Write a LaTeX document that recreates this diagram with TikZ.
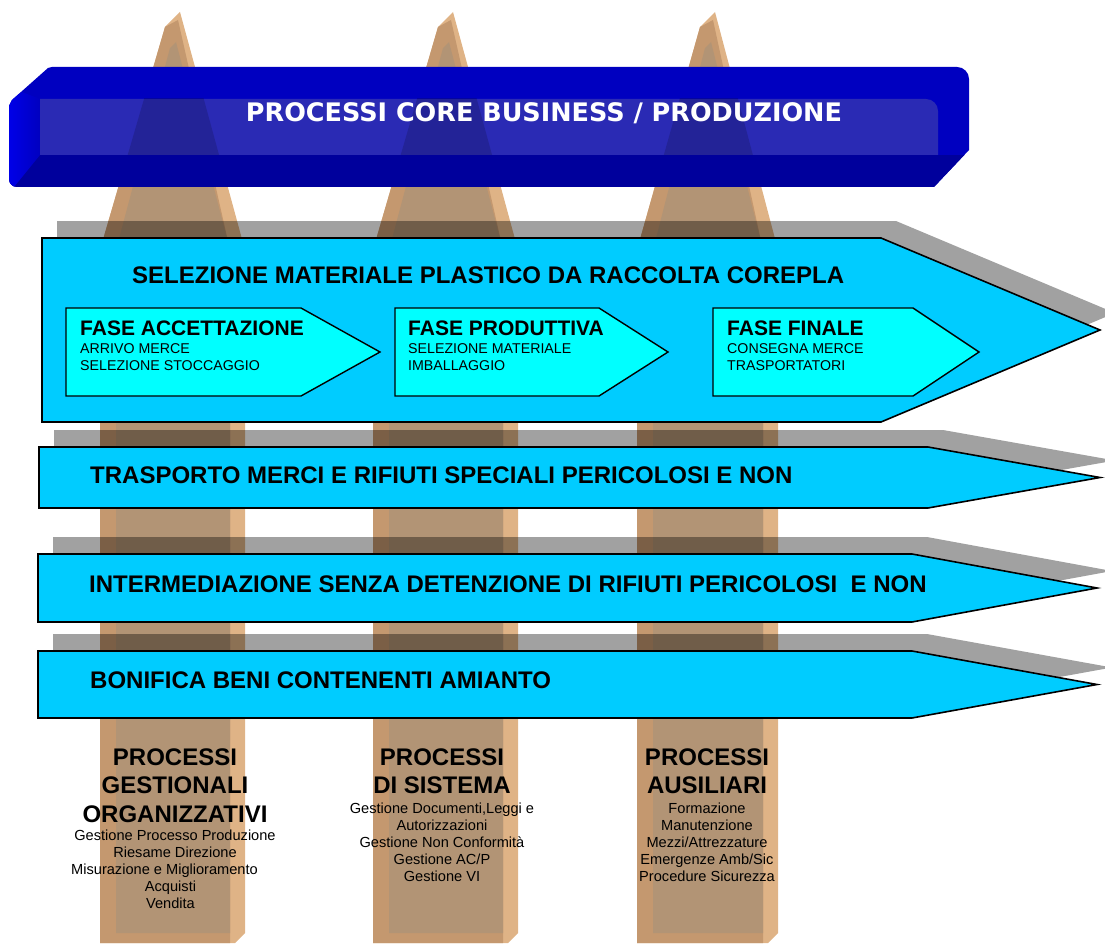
\documentclass[tikz,border=0pt]{standalone}
\usepackage{fontspec}
\setmainfont{Liberation Sans}
\newfontfamily\ttlfont{DejaVu Sans}
\definecolor{arrowblue}{HTML}{00CCFF}
\definecolor{phasecyan}{HTML}{00FFFF}
\definecolor{bantop}{HTML}{0000C0}
\definecolor{banbot}{HTML}{00009C}
\definecolor{banband}{HTML}{2A2AB4}
\definecolor{banleft}{HTML}{0000EE}
\definecolor{pilright}{HTML}{DFB386}
\definecolor{pilfront}{HTML}{C4986F}
\definecolor{pilinner}{HTML}{B29475}
\newcommand\pilout[3]{(#3-15,27) -- (#3,12) -- (#2,250) -- (#2,933) -- (#2-10,943) -- (#1,943) -- (#1,250) -- cycle}
\newcommand\pilfrontpath[3]{(#3-15,27) -- (#3-2,20) -- (#2-15,250) -- (#2-15,943) -- (#1,943) -- (#1,250) -- cycle}
\newcommand\pilinnerpath[3]{(#3-10,48) -- (#3-4,42) -- (#2-15,250) -- (#2-15,933) -- (#1+16,933) -- (#1+16,250) -- cycle}
\newcommand\bigarrow[5]{(#1,#2) -- (#3,#2) -- (#4,{(#2+#5)/2}) -- (#3,#5) -- (#1,#5) -- cycle}
\newcommand\bannerpath{(9,106) -- (12,100) -- (48,68) -- (52,67) -- (957,67) arc[start angle=-90,end angle=0,radius=12] -- (969,150) -- (934,187) -- (17,187) arc[start angle=90,end angle=180,radius=8] -- cycle}
\newcommand\shiftl[1]{\hspace{#1}\mbox{}}
\tikzset{
  mainarrow/.style={fill=arrowblue, draw=black, line width=1.6pt, line join=miter},
  phasearrow/.style={fill=phasecyan, draw=black, line width=1.4pt, line join=miter},
  shadowshape/.style={fill=black, fill opacity=0.37},
  bandtext/.style={font=\fontsize{24}{28}\selectfont\bfseries, anchor=base west, inner sep=0},
  phasetitle/.style={font=\fontsize{21}{24}\selectfont\bfseries, anchor=base west, inner sep=0},
  phasesub/.style={font=\fontsize{14.2}{17}\selectfont, anchor=base west, inner sep=0},
  colhead/.style={font=\fontsize{24}{28.5}\selectfont\bfseries, anchor=base, inner sep=0},
  collist/.style={font=\fontsize{14.6}{17}\selectfont, anchor=base, inner sep=0},
}
\begin{document}
\begin{tikzpicture}[x=1pt,y=-1pt]
\useasboundingbox (0,0) rectangle (1105,944);
\clip (0,0) rectangle (1105,944);
% pillars
\foreach \L/\R/\A in {100/245/180, 373/518/453, 637/778/715}{
  \fill[pilright] \pilout{\L}{\R}{\A};
  \fill[pilfront] \pilfrontpath{\L}{\R}{\A};
  \fill[pilinner] \pilinnerpath{\L}{\R}{\A};
}
% banner
\fill[bantop] \bannerpath;
\begin{scope}
  \clip \bannerpath;
  \fill[banbot] (0,155) rectangle (980,190);
  \shade[left color=banleft, right color=bantop] (4,104) -- (22,92) -- (40,99) -- (40,155) -- (14,187) -- (4,187) -- cycle;
\end{scope}
\fill[banband] (40,99) -- (926,99) arc[start angle=-90,end angle=0,radius=12] -- (938,155) -- (40,155) -- cycle;
\begin{scope}
  \clip (40,99) rectangle (938,155);
  \foreach \L/\R/\A in {100/245/180, 373/518/453, 637/778/715}{
    \fill[black, fill opacity=0.16] \pilout{\L}{\R}{\A};
  }
\end{scope}
\node[font=\ttlfont\fontsize{25.5}{30}\selectfont\bfseries, text=white, anchor=base, inner sep=0] (title) at (544,122) {PROCESSI CORE BUSINESS / PRODUZIONE};
% shadows
\begin{scope}[shift={(15,-17)}]
  \fill[shadowshape] \bigarrow{42}{238}{881}{1100}{422};
  \fill[shadowshape] \bigarrow{39}{447}{928}{1100}{508};
  \fill[shadowshape] \bigarrow{38}{554}{912}{1097}{622};
  \fill[shadowshape] \bigarrow{38}{651}{912}{1097}{718};
\end{scope}
% arrows
\path[mainarrow] \bigarrow{42}{238}{881}{1100}{422};
\path[mainarrow] \bigarrow{39}{447}{928}{1100}{508};
\path[mainarrow] \bigarrow{38}{554}{912}{1097}{622};
\path[mainarrow] \bigarrow{38}{651}{912}{1097}{718};
% phase arrows
\path[phasearrow] \bigarrow{66}{308}{301}{380}{396};
\path[phasearrow] \bigarrow{395}{308}{599}{668}{396};
\path[phasearrow] \bigarrow{713}{308}{913}{979}{396};
% texts
\node[bandtext] (sel) at (132,283) {SELEZIONE MATERIALE PLASTICO DA RACCOLTA COREPLA};
\node[bandtext] (tra) at (90,483) {TRASPORTO MERCI E RIFIUTI SPECIALI PERICOLOSI E NON};
\node[bandtext] (int) at (89,592) {INTERMEDIAZIONE SENZA DETENZIONE DI RIFIUTI PERICOLOSI\ \ E NON};
\node[bandtext] (bon) at (90,688) {BONIFICA BENI CONTENENTI AMIANTO};
\node[phasetitle] (f1t) at (80,335) {FASE ACCETTAZIONE};
\node[phasesub] (f1s) at (80,353) {\begin{tabular}[t]{@{}l@{}}ARRIVO MERCE\\SELEZIONE STOCCAGGIO\end{tabular}};
\node[phasetitle] (f2t) at (408,335) {FASE PRODUTTIVA};
\node[phasesub] (f2s) at (408,353) {\begin{tabular}[t]{@{}l@{}}SELEZIONE MATERIALE\\IMBALLAGGIO\end{tabular}};
\node[phasetitle] (f3t) at (727,335) {FASE FINALE};
\node[phasesub] (f3s) at (727,353) {\begin{tabular}[t]{@{}l@{}}CONSEGNA MERCE\\TRASPORTATORI\end{tabular}};
% columns
\node[colhead] (c1h) at (175,765) {\begin{tabular}[t]{@{}c@{}}PROCESSI\\GESTIONALI\\ORGANIZZATIVI\end{tabular}};
\node[collist] (c1l) at (175,840) {\begin{tabular}[t]{@{}c@{}}Gestione Processo Produzione\\Riesame Direzione\\Misurazione e Miglioramento\shiftl{21pt}\\Acquisti\shiftl{9pt}\\Vendita\shiftl{9pt}\end{tabular}};
\node[colhead] (c2h) at (442,765) {\begin{tabular}[t]{@{}c@{}}PROCESSI\\DI SISTEMA\end{tabular}};
\node[collist] (c2l) at (442,813) {\begin{tabular}[t]{@{}c@{}}Gestione Documenti,Leggi e\\Autorizzazioni\\Gestione Non Conformità\\Gestione AC/P\\Gestione VI\end{tabular}};
\node[colhead] (c3h) at (707,765) {\begin{tabular}[t]{@{}c@{}}PROCESSI\\AUSILIARI\end{tabular}};
\node[collist] (c3l) at (707,813) {\begin{tabular}[t]{@{}c@{}}Formazione\\Manutenzione\\Mezzi/Attrezzature\\Emergenze Amb/Sic\\Procedure Sicurezza\end{tabular}};
\end{tikzpicture}
\end{document}
